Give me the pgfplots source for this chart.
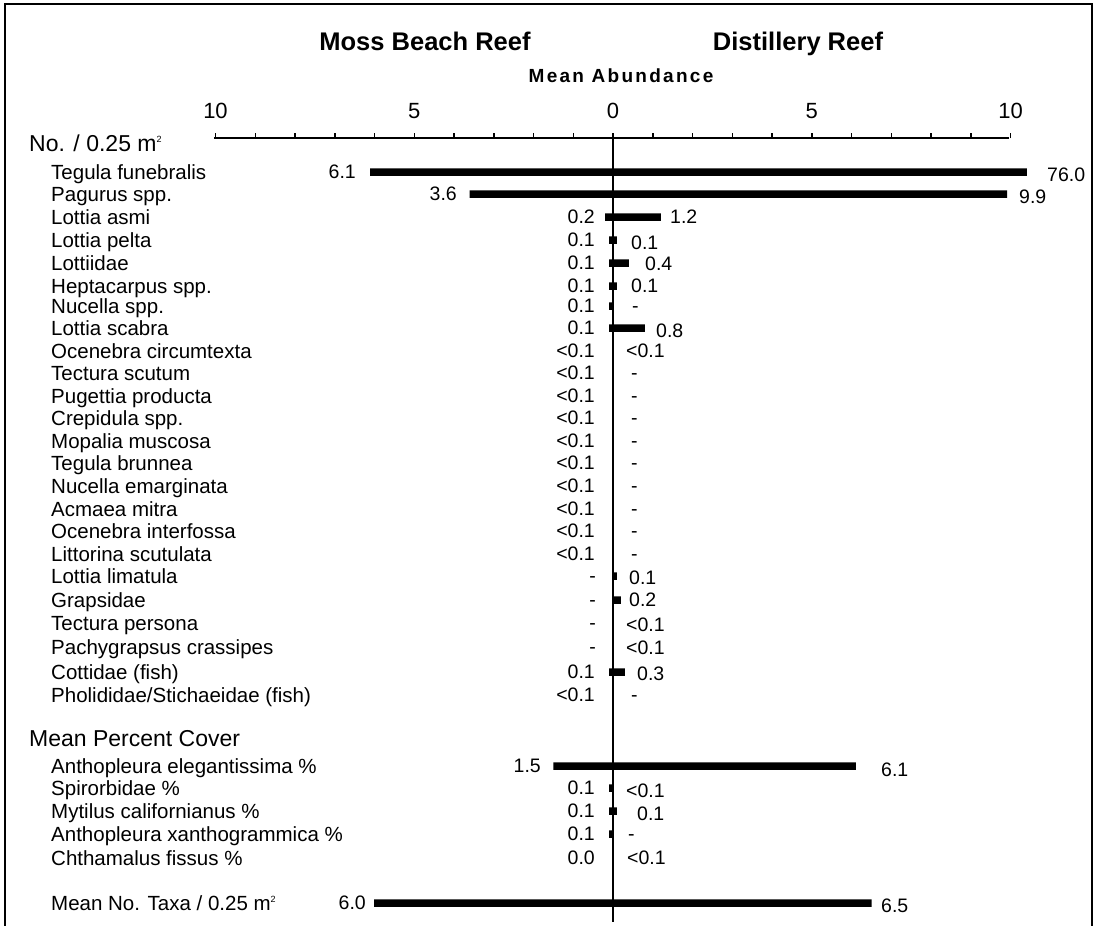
\documentclass[border=0pt]{standalone}
\usepackage{pgfplots}
\pgfplotsset{compat=1.18}
\usepackage{fontspec}
\setmainfont{Liberation Sans}
\newfontfamily\spaced[LetterSpace=12]{Liberation Sans}
\newcommand{\sqm}{m\raisebox{0.75ex}{\fontsize{9}{9}\selectfont 2}}
\newcommand{\spc}[2]{\node[anchor=base west,inner sep=0pt,font=\fontsize{20.5}{20.5}\selectfont] at (51,#1+7.3) {#2};}
\newcommand{\hdr}[2]{\node[anchor=base west,inner sep=0pt,font=\fontsize{23}{23}\selectfont] at (29,#1+8.2) {#2};}
\newcommand{\lv}[3]{\node[anchor=base east,inner sep=0pt,font=\fontsize{19.5}{19.5}\selectfont] at (#1,#2+7) {#3};}
\newcommand{\rv}[3]{\node[anchor=base west,inner sep=0pt,font=\fontsize{19.5}{19.5}\selectfont] at (#1,#2+7) {#3};}
\begin{document}
\begin{tikzpicture}[x=1pt,y=1pt]
\useasboundingbox (0,0) rectangle (1095,926);
\begin{axis}[at={(0,0)}, anchor=south west,
  width=1095pt, height=926pt, scale only axis,
  xmin=-15.402, xmax=12.111, ymin=0, ymax=926, y dir=reverse,
  hide axis, clip=false]
% Moss Beach Reef (plotted to the left)
\addplot[xbar, bar shift=0pt, bar width=7.5, fill=black, draw=none] coordinates {
(-6.1,172) (-3.6,194) (-0.2,217) (-0.1,240) (-0.1,263) (-0.1,286) (-0.1,306) (-0.1,328)
(0,351) (0,373) (0,396) (0,418) (0,441) (0,463) (0,486) (0,509) (0,531) (0,554)
(0,576) (0,600) (0,623) (0,647) (-0.1,672) (0,695)
(-1.5,766) (-0.1,788) (-0.1,811) (-0.1,834) (0,858) (-6.0,903)};
% Distillery Reef (plotted to the right; 76.0 is cut at the axis end)
\addplot[xbar, bar shift=0pt, bar width=7.5, fill=black, draw=none] coordinates {
(10.4,172) (9.9,194) (1.2,217) (0.1,240) (0.4,263) (0.1,286) (0,306) (0.8,328)
(0,351) (0,373) (0,396) (0,418) (0,441) (0,463) (0,486) (0,509) (0,531) (0,554)
(0.1,576) (0.2,600) (0,623) (0,647) (0.3,672) (0,695)
(6.1,766) (0,788) (0.1,811) (0,834) (0,858) (6.5,903)};
\end{axis}
\begin{scope}[shift={(0,926)}, y=-1pt]
% frame
\draw[line width=2pt] (4.5,926) -- (4.5,4.5) -- (1092,4.5) -- (1092,926);
% titles
\node[anchor=base,inner sep=0pt,font=\fontsize{25.5}{25.5}\selectfont\bfseries] at (425,51) {Moss Beach Reef};
\node[anchor=base,inner sep=0pt,font=\fontsize{25.5}{25.5}\selectfont\bfseries] at (798,51) {Distillery Reef};
\node[anchor=base,inner sep=0pt,font=\fontsize{19}{19}\spaced\bfseries] at (621,83) {Mean Abundance};
% scale
\draw[line width=1.8pt] (214,138) -- (1009,138);
\foreach \i in {-10,...,10} \draw[line width=1.5pt] ({613+39.75*\i},138.5) -- ({613+39.75*\i},133);
\foreach \i/\t in {-10/10,-5/5,0/0,5/5,10/10}
  \node[anchor=base,inner sep=0pt,font=\fontsize{22}{22}\selectfont] at ({613+39.75*\i},119) {\t};
\draw[line width=1.8pt] (613,138) -- (613,922);
% headers
\hdr{143}{No. / 0.25 \sqm}
\hdr{738}{Mean Percent Cover}
% species
\spc{172}{Tegula funebralis}
\spc{194}{Pagurus spp.}
\spc{217}{Lottia asmi}
\spc{240}{Lottia pelta}
\spc{263}{Lottiidae}
\spc{286}{Heptacarpus spp.}
\spc{306}{Nucella spp.}
\spc{328}{Lottia scabra}
\spc{351}{Ocenebra circumtexta}
\spc{373}{Tectura scutum}
\spc{396}{Pugettia producta}
\spc{418}{Crepidula spp.}
\spc{441}{Mopalia muscosa}
\spc{463}{Tegula brunnea}
\spc{486}{Nucella emarginata}
\spc{509}{Acmaea mitra}
\spc{531}{Ocenebra interfossa}
\spc{554}{Littorina scutulata}
\spc{576}{Lottia limatula}
\spc{600}{Grapsidae}
\spc{623}{Tectura persona}
\spc{647}{Pachygrapsus crassipes}
\spc{672}{Cottidae (fish)}
\spc{695}{Pholididae/Stichaeidae (fish)}
\spc{766}{Anthopleura elegantissima \%}
\spc{788}{Spirorbidae \%}
\spc{811}{Mytilus californianus \%}
\spc{834}{Anthopleura xanthogrammica \%}
\spc{858}{Chthamalus fissus \%}
\spc{903}{Mean No. Taxa / 0.25 \sqm}
% left values
\lv{356}{172}{6.1}
\lv{457}{194}{3.6}
\lv{595}{217}{0.2}
\lv{595}{240}{0.1}
\lv{595}{263}{0.1}
\lv{595}{286}{0.1}
\lv{595}{306}{0.1}
\lv{595}{328}{0.1}
\lv{595}{351}{<0.1}
\lv{595}{373}{<0.1}
\lv{595}{396}{<0.1}
\lv{595}{418}{<0.1}
\lv{595}{441}{<0.1}
\lv{595}{463}{<0.1}
\lv{595}{486}{<0.1}
\lv{595}{509}{<0.1}
\lv{595}{531}{<0.1}
\lv{595}{554}{<0.1}
\lv{596}{576}{-}
\lv{596}{600}{-}
\lv{596}{623}{-}
\lv{596}{647}{-}
\lv{595}{672}{0.1}
\lv{595}{695}{<0.1}
\lv{541}{766}{1.5}
\lv{595}{788}{0.1}
\lv{595}{811}{0.1}
\lv{595}{834}{0.1}
\lv{595}{858}{0.0}
\lv{366}{903}{6.0}
% right values
\rv{1047}{175}{76.0}
\rv{1019}{197}{9.9}
\rv{670}{217}{1.2}
\rv{631}{243}{0.1}
\rv{645}{264}{0.4}
\rv{631}{286}{0.1}
\rv{632}{306}{-}
\rv{656}{331}{0.8}
\rv{626}{351}{<0.1}
\rv{631}{373}{-}
\rv{631}{396}{-}
\rv{631}{418}{-}
\rv{631}{441}{-}
\rv{631}{463}{-}
\rv{631}{486}{-}
\rv{631}{509}{-}
\rv{631}{531}{-}
\rv{631}{554}{-}
\rv{629}{578}{0.1}
\rv{629}{600}{0.2}
\rv{626}{625}{<0.1}
\rv{626}{648}{<0.1}
\rv{637}{674}{0.3}
\rv{631}{695}{-}
\rv{881}{770}{6.1}
\rv{626}{791}{<0.1}
\rv{637}{814}{0.1}
\rv{628}{834}{-}
\rv{627}{858}{<0.1}
\rv{881}{906}{6.5}
\end{scope}
\end{tikzpicture}
\end{document}
